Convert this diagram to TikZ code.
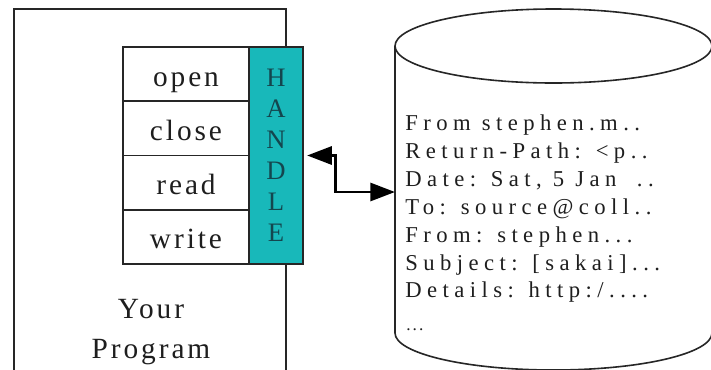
\documentclass[tikz,border=0pt]{standalone}
\usepackage{fontspec}
\setmainfont{Liberation Serif}
\newfontfamily\lblfont[LetterSpace=10]{Liberation Serif}
\newfontfamily\mailfont[LetterSpace=24]{Liberation Serif}
\newfontfamily\dotfont[LetterSpace=12]{Liberation Serif}
\newfontfamily\hdlfont{Liberation Serif}
\usetikzlibrary{arrows.meta}
\definecolor{handleteal}{RGB}{24,184,186}
\definecolor{handletext}{RGB}{20,70,78}
\definecolor{ink}{RGB}{30,30,30}
\begin{document}
\begin{tikzpicture}[x=0.75pt,y=-0.75pt,
  box/.style={draw=black!85, line width=1.2pt},
  fnbox/.style={box, fill=white, rectangle, inner sep=0pt,
    minimum width=94.5pt, minimum height=40.7pt,
    text height=18pt, text depth=0pt, text=ink,
    font=\lblfont\fontsize{22}{26}\selectfont},
  hdlbox/.style={box, fill=handleteal, rectangle, inner sep=0pt,
    minimum width=40.5pt, minimum height=162.75pt, text=handletext,
    align=center, font=\hdlfont\fontsize{20}{23.25}\selectfont},
  progtext/.style={anchor=base, text=ink, inner sep=0pt,
    font=\lblfont\fontsize{22}{26}\selectfont},
  mailtext/.style={anchor=base west, text=ink, inner sep=0pt,
    font=\mailfont\fontsize{17}{21}\selectfont},
  conn/.style={line width=2.2pt, {Triangle[length=18.5pt,width=13.5pt]}-{Triangle[length=18.5pt,width=13.5pt]}}
]
\useasboundingbox (0,0) rectangle (711,369);
\fill[white] (0,0) rectangle (711,369);
\clip (0,0) rectangle (711,369);

% program box
\draw[box] (14,9) rectangle (286,400);

% function boxes
\node[fnbox] (open)  at (186,74.1)  {open};
\node[fnbox] (close) at (186,128.4) {close};
\node[fnbox] (read)  at (186,182.6) {read};
\node[fnbox] (write) at (186,236.9) {write};

% handle
\node[hdlbox] (handle) at (276,155.5) {H\\A\\N\\D\\L\\E};

% program label
\node[progtext] (your) at (151,318) {Your};
\node[progtext] (prog) at (151,358) {Program};

% cylinder
\draw[box] (553.5,46) ellipse [x radius=158.5, y radius=37];
\draw[box] (395,46) -- (395,333) arc[start angle=180, end angle=0, x radius=158.5, y radius=37] -- (712,46);
\coordinate (dbin) at (395,192);

% mail text
\node[mailtext] (m1) at (405,130) {From stephen.m..};
\node[mailtext] (m2) at (405,158) {Return-Path: <p..};
\node[mailtext] (m3) at (405,186) {Date: Sat, 5 Jan\hspace{7pt} ..};
\node[mailtext] (m4) at (405,214) {To: source@coll..};
\node[mailtext] (m5) at (405,242) {From: stephen...};
\node[mailtext] (m6) at (405,270) {Subject: [sakai]...};
\node[mailtext] (m7) at (405,297) {Details: http:/....};
\node[mailtext, font=\dotfont\fontsize{13}{16}\selectfont] (m8) at (406,330) {...};

% connector
\draw[conn, shorten <=2.5pt] (handle.east) -- ++(32,0) |- (dbin);
\end{tikzpicture}
\end{document}
